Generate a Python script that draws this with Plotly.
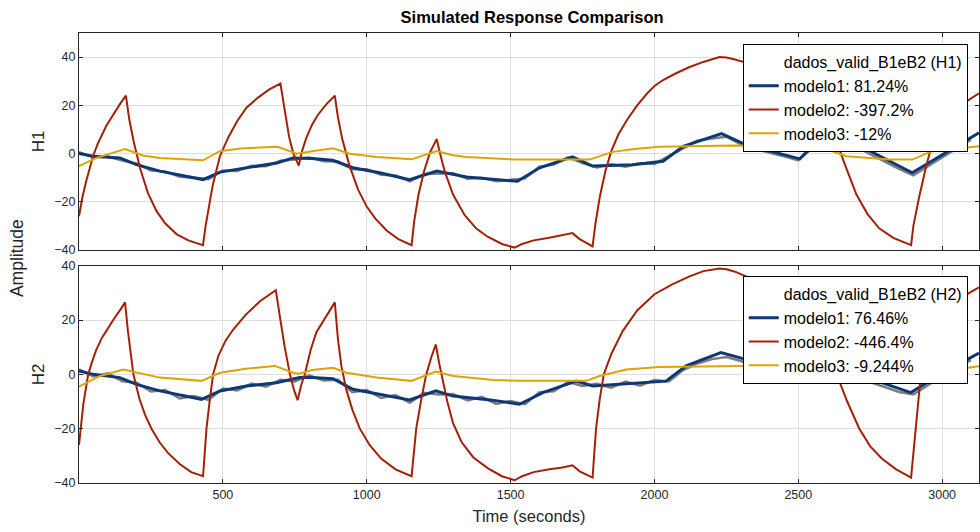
import plotly.graph_objects as go

# ---------------- data ----------------
# H1 panel
h1_m1_t = [0, 49, 142, 200, 281, 431, 490, 583, 688, 744, 810, 882, 952, 1045, 1149, 1243, 1347, 1524,
           1601, 1715, 1785, 1924, 2030, 2100, 2233, 2330, 2420, 2505, 2560, 2700, 2896, 3128]
h1_m1_v = [0, -1.1, -1.8, -4.6, -7.3, -10.8, -7.7, -5.9, -3.9, -1.8, -2.1, -2.8, -5.9, -8.0, -10.8, -7.3, -9.7, -11.5,
           -5.9, -1.4, -5.2, -4.6, -3.2, 3.0, 8.3, 3.0, 0.5, -2.2, 4.4, 4.1, -8.0, 8.6]

h1_m2_t = [0, 12, 25, 37, 49, 65, 80, 95, 108, 125, 145, 163,
           175, 190, 212, 240, 270, 300, 340, 380, 431,
           440, 451, 465, 490, 520, 550, 582, 620, 660, 700,
           715, 730, 745, 764,
           775, 790, 810, 830, 860, 889,
           900, 915, 940, 970, 1000, 1030, 1070, 1110, 1156,
           1165, 1180, 1200, 1220, 1243,
           1255, 1270, 1300, 1340, 1380, 1420, 1470, 1514,
           1540, 1580, 1630, 1680, 1715, 1740, 1765, 1785,
           1795, 1810, 1830, 1850, 1875, 1905, 1940, 1975, 2000, 2030, 2070, 2120, 2170, 2226,
           2250, 2280, 2323, 2400, 2470, 2540, 2600, 2630, 2660, 2702, 2740, 2781, 2830, 2892,
           2900, 2920, 2945, 2965, 3000, 3050, 3128]
h1_m2_v = [-26, -18, -11.5, -6, -1, 4, 8, 11.5, 14, 17.5, 21, 24,
           14, 5, -6, -16.5, -24, -29, -33.5, -36, -38,
           -30, -22, -13, -1, 7, 13.5, 19, 23, 26.5, 29,
           17, 7, 0, -5,
           1, 6.5, 12, 16, 20.5, 24,
           15, 6, -5, -15, -22, -27, -32, -35.5, -38,
           -28, -17, -7, 0.5, 6,
           0, -7, -17, -25.5, -31, -34.5, -37.5, -39,
           -37.5, -36, -35, -34, -33, -35.5, -37.3, -38.5,
           -29, -18, -7, 1, 8, 14, 20, 25, 28, 30.5, 33, 35.8, 38, 40,
           39.8, 39, 37.5, 33, 26, 18, 10, 6, -4, -17, -25, -31, -35, -38,
           -30, -18, -5, 4, 12, 19, 25]

h1_m3_t = [0, 61, 160, 222, 281, 431, 490, 560, 690, 757, 810, 882, 941, 1035, 1156, 1243, 1299, 1347,
           1520, 1774, 1855, 1930, 2017, 2271, 2443, 2503, 2583, 2667, 2816, 2896, 2965, 3128]
h1_m3_v = [-5.2, -1.8, 1.9, -0.8, -1.8, -2.8, 1.0, 2.1, 2.8, -0.1, 1.0, 2.2, -0.1, -1.4, -2.4, 1.0, -0.7, -1.4,
           -2.5, -2.5, 0.7, 1.9, 2.8, 3.3, 3.0, 2.2, 2.5, -1.1, -2.5, -2.5, 1.0, 3.0]

data_t = list(range(0, 3101, 50))
h1_data_v = [0.6, -1.6, -1.2, -2.9, -4.2, -7.0, -7.4, -9.6, -10.0, -10.6, -7.0, -7.2, -5.1, -5.3, -3.0, -2.5,
             -1.6, -3.2, -3.3, -6.5, -6.5, -8.8, -9.1, -11.5, -8.5, -8.2, -8.2, -10.4, -10.0, -11.5, -11.0,
             -10.3, -5.5, -4.6, -1.6, -4.0, -5.8, -4.4, -5.5, -4.0, -4.3, -1.0, 2.2, 5.4, 6.2, 7.0, 3.8, 2.0,
             0.3, -1.1, -2.8, 2.5, 3.4, 3.0, 2.9, -0.2, -3.4, -6.4, -9.0, -5.2, -1.6, 2.1, 5.8]

# H2 panel
h2_m1_t = [0, 50, 142, 200, 281, 426, 490, 582, 686, 767, 810, 883, 952, 1045, 1149, 1240, 1300, 1430, 1531,
           1612, 1728, 1786, 2040, 2110, 2231, 2318, 2420, 2503, 2573, 2620, 2891, 3013, 3128]
h2_m1_v = [1.2, 0, -1.2, -3.7, -6.1, -9.2, -6.1, -4.3, -3.1, -1.2, -1.2, -1.6, -5.5, -7.4, -9.4, -6.1, -8.0, -9.4, -11.0,
           -6.7, -2.5, -4.3, -2.5, 3.1, 8.0, 5.5, 1.5, -1.8, 3.0, 3.2, -6.7, 1.2, 7.8]

h2_m2_t = [0, 8, 15, 25, 32, 45, 60, 80, 100, 125, 145, 160,
           170, 180, 189, 210, 230, 252, 280, 310, 350, 390, 431,
           437, 443, 455, 466, 485, 510, 536, 580, 630, 684,
           700, 715, 733, 748, 760,
           772, 785, 805, 825, 860, 889,
           900, 912, 930, 950, 976, 1010, 1050, 1100, 1156,
           1164, 1172, 1190, 1207, 1225, 1240,
           1252, 1263, 1280, 1300, 1330, 1370, 1420, 1470, 1514,
           1540, 1580, 1630, 1680, 1715, 1740, 1765, 1785,
           1791, 1797, 1810, 1824, 1850, 1890, 1940, 2000, 2060, 2120, 2170, 2226,
           2250, 2280, 2330, 2400, 2470, 2540, 2600, 2631, 2670, 2712, 2750, 2790, 2840, 2892,
           2900, 2908, 2918, 2926, 2949, 2980, 3020, 3070, 3128]
h2_m2_v = [-26, -17, -11, -4.5, 0, 4.5, 9, 13.5, 17, 21, 24, 26.5,
           16, 7, 0, -9, -15, -20, -25, -29, -33, -36, -37.5,
           -29, -20, -9, 0, 7, 12.5, 16.5, 22, 27, 31,
           20, 10, 0, -6, -9.5,
           -4, 0, 9, 15.5, 21.5, 26.5,
           13, 3, -6, -13, -20, -26, -31, -35, -37.5,
           -28, -20, -9, 0, 6.5, 11,
           4, -2, -10, -18, -25, -30.5, -34.5, -37.5, -39,
           -37.5, -36, -35, -34.3, -33.5, -35.7, -37, -38,
           -29, -20, -9, 0, 7.5, 16, 23.5, 29.5, 33, 36, 38, 39,
           38.7, 37.8, 35.5, 30.5, 24, 15.5, 6.5, 0.6, -10, -20, -26.5, -31, -35, -38,
           -29, -20, -9, 0, 12, 19, 24, 28.5, 32]

h2_m3_t = [0, 73, 154, 190, 281, 426, 490, 580, 681, 744, 765, 810, 883, 930, 1034, 1155, 1240, 1300, 1440,
           1531, 1763, 1809, 1902, 2017, 2318, 2400, 2500, 2560, 2619, 2700, 2800, 2897, 2966, 3128]
h2_m3_v = [-4.5, -0.6, 1.8, 0.9, -1.2, -2.4, 0.6, 2.1, 3.1, 0.6, 0.25, 1.6, 2.4, 0.6, -1.2, -2.4, 1.0, -0.6, -2.1,
           -2.4, -2.4, -0.6, 1.8, 2.7, 3.3, 3.2, 2.5, 2.8, 0.0, -1.5, -2.2, -2.4, 0.6, 3.0]

h2_data_v = [1.8, -0.8, 0.4, -2.6, -3.1, -6.3, -5.8, -8.9, -8.0, -9.4, -5.2, -5.9, -3.4, -4.5, -2.0, -2.6,
             -0.4, -2.3, -2.0, -6.6, -5.8, -8.7, -7.6, -10.5, -6.8, -7.4, -7.2, -9.6, -8.3, -10.9, -9.8,
             -11.0, -6.6, -6.2, -2.8, -4.3, -3.5, -4.9, -2.7, -4.2, -2.1, -2.6, 1.6, 4.0, 5.6, 6.4, 4.9, 2.9,
             1.3, -0.9, -2.9, 0.3, 2.0, 0.8, -1.0, -2.9, -4.6, -6.5, -7.4, -3.9, -0.7, 2.4, 5.2]

h1_names = ["dados_valid_B1eB2 (H1)", "modelo1: 81.24%", "modelo2: -397.2%", "modelo3: -12%"]
h2_names = ["dados_valid_B1eB2 (H2)", "modelo1: 76.46%", "modelo2: -446.4%", "modelo3: -9.244%"]

x_ticks = [500, 1000, 1500, 2000, 2500, 3000]
y_ticks = [-40, -20, 0, 20, 40]

# ---------------- styling ----------------
C_DATA = "rgb(125,125,125)"
C_M1 = "rgb(12,56,118)"
C_M2 = "rgb(165,32,8)"
C_M3 = "rgb(222,163,5)"
FONT = "Liberation Sans, Arial, sans-serif"
AX = "#262626"

fig = go.Figure()

panels = [
    ("x", "y", "legend", h1_data_v, h1_m1_t, h1_m1_v, h1_m2_t, h1_m2_v, h1_m3_t, h1_m3_v, h1_names),
    ("x2", "y2", "legend2", h2_data_v, h2_m1_t, h2_m1_v, h2_m2_t, h2_m2_v, h2_m3_t, h2_m3_v, h2_names),
]
for xa, ya, lg, dv, t1, v1, t2, v2, t3, v3, names in panels:
    # measured data line
    fig.add_trace(go.Scatter(x=data_t, y=dv, xaxis=xa, yaxis=ya, mode="lines",
                             line=dict(color=C_DATA, width=2.5), showlegend=False, name=names[0]))
    # legend header entry for the data (no visible sample, as in the reference)
    fig.add_trace(go.Scatter(x=[None], y=[None], xaxis=xa, yaxis=ya, mode="lines",
                             line=dict(color="rgba(0,0,0,0)", width=2), name=names[0], legend=lg))
    fig.add_trace(go.Scatter(x=t1, y=v1, xaxis=xa, yaxis=ya, mode="lines",
                             line=dict(color=C_M1, width=3), name=names[1], legend=lg))
    fig.add_trace(go.Scatter(x=t2, y=v2, xaxis=xa, yaxis=ya, mode="lines",
                             line=dict(color=C_M2, width=2), name=names[2], legend=lg))
    fig.add_trace(go.Scatter(x=t3, y=v3, xaxis=xa, yaxis=ya, mode="lines",
                             line=dict(color=C_M3, width=2), name=names[3], legend=lg))

axis_common = dict(showline=True, linecolor=AX, linewidth=1, mirror="allticks",
                   ticks="inside", ticklen=4, tickcolor=AX, showgrid=True,
                   gridcolor="rgb(222,222,222)", gridwidth=1, zeroline=False,
                   tickfont=dict(family=FONT, size=12.5, color=AX))

legend_common = dict(bgcolor="white", bordercolor="black", borderwidth=1,
                     font=dict(family=FONT, size=16, color="black"),
                     xanchor="left", yanchor="top", traceorder="normal",
                     itemwidth=30, tracegroupgap=0,
                     entrywidth=210, entrywidthmode="pixels")

fig.update_layout(
    width=980, height=532,
    margin=dict(l=79, r=1, t=33, b=49),
    paper_bgcolor="white", plot_bgcolor="white",
    font=dict(family=FONT, color=AX),
    title=dict(text="<b>Simulated Response Comparison</b>", x=0.543, xref="container",
               y=1 - 17 / 532, yref="container", xanchor="center", yanchor="middle",
               font=dict(family=FONT, size=16.5, color="black")),
    xaxis=dict(domain=[0, 1], anchor="y", range=[0, 3128], tickvals=x_ticks,
               showticklabels=False, **axis_common),
    xaxis2=dict(domain=[0, 1], anchor="y2", range=[0, 3128], tickvals=x_ticks, matches="x",
                title=dict(text="Time (seconds)", standoff=9, font=dict(family=FONT, size=16.5, color=AX)),
                **axis_common),
    yaxis=dict(domain=[0.5178, 1], anchor="x", range=[-40, 50], tickvals=y_ticks,
               title=dict(text="H1", standoff=5, font=dict(family=FONT, size=17, color=AX)),
               **axis_common),
    yaxis2=dict(domain=[0, 0.4829], anchor="x2", range=[-40, 40], tickvals=y_ticks,
                title=dict(text="H2", standoff=5, font=dict(family=FONT, size=17, color=AX)),
                **axis_common),
    legend=dict(x=0.7375, y=0.9756, **legend_common),
    legend2=dict(x=0.7375, y=0.46, **legend_common),
    annotations=[dict(text="Amplitude", xref="paper", yref="paper", x=-0.0688, y=0.5,
                      xanchor="center", yanchor="middle", textangle=-90, showarrow=False,
                      font=dict(family=FONT, size=17.5, color=AX))],
)

fig.write_html("out.html")
